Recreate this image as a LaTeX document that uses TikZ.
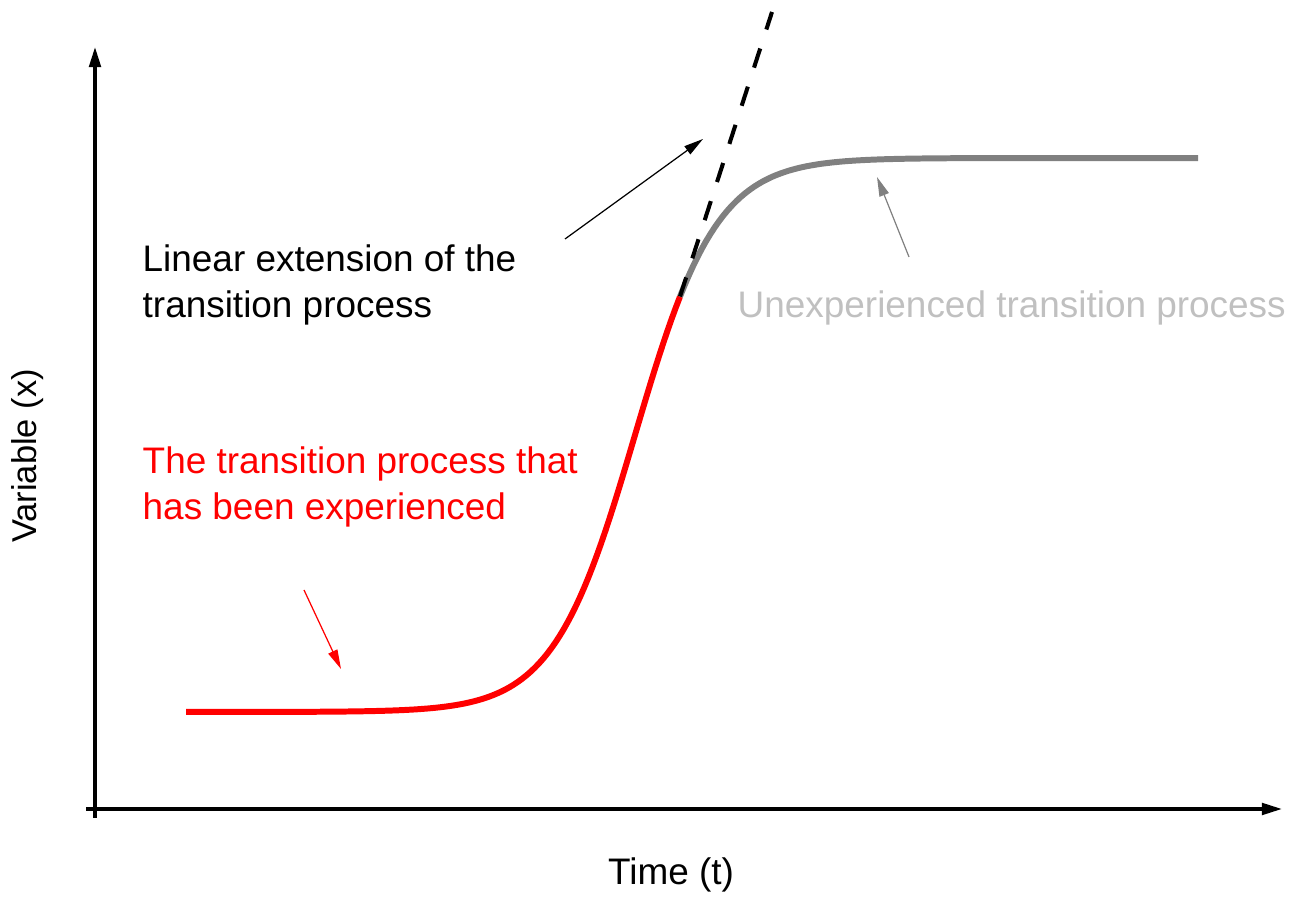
\documentclass[tikz,border=0pt]{standalone}
\usepackage{fontspec}
\setmainfont{Liberation Sans}
\usetikzlibrary{arrows.meta}
\definecolor{curvegray}{RGB}{128,128,128}
\definecolor{lightgray}{RGB}{192,192,192}
\begin{document}
\begin{tikzpicture}[x=0.01cm,y=-0.01cm,
  axis/.style={line width=0.9pt, -{Triangle[length=5.7pt,width=3.3pt]}},
  pointer/.style={line width=0.35pt, -{Triangle[length=5.5pt,width=2.8pt]}},
  lbl/.style={font=\fontsize{10.5}{13.1}\selectfont, inner sep=0pt, align=left, anchor=base west},
  axlbl/.style={font=\fontsize{10.5}{13.1}\selectfont, inner sep=0pt},
  curve/.style={line width=1.7pt},
]
\useasboundingbox (0,0) rectangle (1300,904);
% axes
\coordinate (ybot) at (95,818);
\coordinate (ytop) at (95,47);
\coordinate (xstart) at (86,809);
\coordinate (xend) at (1282,809);
\draw[axis] (ybot) -- (ytop);
\draw[axis] (xstart) -- (xend);
% curve
\coordinate (split) at (680,296.5);
\coordinate (dtop) at (772,12);
\draw[red, curve, domain=186:680, samples=120]
  plot (\x, {712-554/(1+exp(-max(-9,min(9,(\x-635)/41))))});
\draw[curvegray, curve, domain=680:1198, samples=120]
  plot (\x, {712-554/(1+exp(-max(-9,min(9,(\x-635)/41))))});
% linear extension
\draw[line width=1.15pt, dash pattern=on 5.7pt off 5.7pt] (split) -- (dtop);
% labels (base anchor = baseline of the last line)
\node[lbl] (lin) at (142,318) {Linear extension of the\\transition process};
\node[lbl, text=lightgray] (unexp) at (737,318) {Unexperienced transition process};
\node[lbl, text=red] (exp) at (142,520) {The transition process that\\has been experienced};
\node[axlbl, rotate=90, font=\fontsize{9.8}{12}\selectfont] (ylab) at (28,456) {Variable (x)};
\node[axlbl, anchor=base] (xlab) at (671,885) {Time (t)};
% pointers
\coordinate (pb1) at (565,239);
\coordinate (pb2) at (703,139);
\coordinate (pr1) at (304,590);
\coordinate (pr2) at (341,669);
\coordinate (pg1) at (909,257);
\coordinate (pg2) at (877,177);
\draw[pointer] (pb1) -- (pb2);
\draw[pointer, red] (pr1) -- (pr2);
\draw[pointer, curvegray] (pg1) -- (pg2);
\end{tikzpicture}
\end{document}
